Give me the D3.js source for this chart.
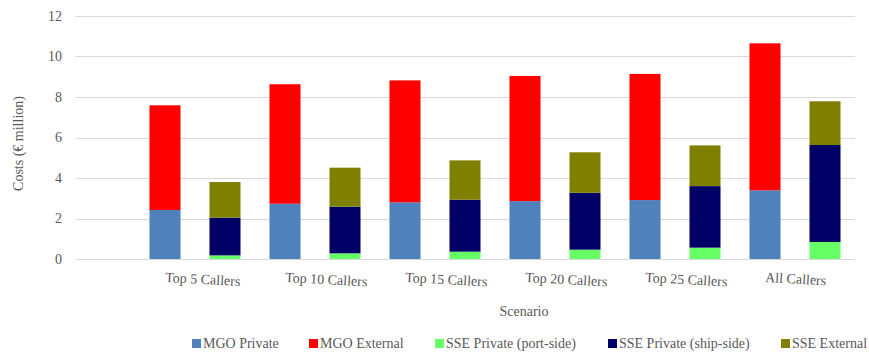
<!DOCTYPE html>
<html>
<head>
<meta charset="utf-8">
<script src="https://cdn.jsdelivr.net/npm/d3@7"></script>
<style>
  html, body { margin: 0; padding: 0; background: #ffffff; }
  svg { display: block; }
</style>
</head>
<body>
<svg id="chart" width="869" height="354"></svg>
<script>
// Cost scenarios (€ million)
const scenarios = ["Top 5 Callers", "Top 10 Callers", "Top 15 Callers", "Top 20 Callers", "Top 25 Callers", "All Callers"];
const technologies = ["MGO", "SSE"];

const mgoPrivate  = [2.42, 2.73, 2.80, 2.86, 2.91, 3.39];
const mgoExternal = [5.17, 5.90, 6.02, 6.18, 6.23, 7.26];
const ssePrivatePort = [0.18, 0.28, 0.36, 0.46, 0.56, 0.84];
const ssePrivateShip = [1.86, 2.30, 2.57, 2.81, 3.04, 4.79];
const sseExternal    = [1.76, 1.93, 1.94, 2.00, 2.01, 2.16];

const yTicks = [0, 2, 4, 6, 8, 10, 12];

const seriesDefs = [
  { name: "MGO Private", tech: "MGO", values: mgoPrivate, color: "#4f81bd" },
  { name: "MGO External", tech: "MGO", values: mgoExternal, color: "#ff0000" },
  { name: "SSE Private (port-side)", tech: "SSE", values: ssePrivatePort, color: "#66ff66" },
  { name: "SSE Private (ship-side)", tech: "SSE", values: ssePrivateShip, color: "#000066" },
  { name: "SSE External", tech: "SSE", values: sseExternal, color: "#808000" }
];

const FONT = "Liberation Serif";
const TEXT_COLOR = "#595959";

const svg = d3.select("#chart");

const plotLeft = 75, plotRight = 855, plotTop = 16, plotBottom = 259;
const firstGroupLeft = 135; // one empty slot before the first scenario
const legendSlots = [192, 309, 435, 608, 781]; // legend entry left edges

const y = d3.scaleLinear().domain([0, 12]).range([plotBottom, plotTop]);
const x0 = d3.scaleBand().domain(scenarios).range([firstGroupLeft, plotRight]).padding(0);
const x1 = d3.scaleBand().domain(technologies).range([0, x0.bandwidth()])
  .paddingInner(0.483).paddingOuter(0.2415);

function styleText(sel) {
  return sel.style("font-family", FONT).style("font-size", "14px").style("fill", TEXT_COLOR);
}

// Horizontal gridlines
svg.append("g")
  .selectAll("line")
  .data(yTicks)
  .join("line")
  .attr("x1", plotLeft).attr("x2", plotRight)
  .attr("y1", d => Math.round(y(d)) + 0.5)
  .attr("y2", d => Math.round(y(d)) + 0.5)
  .attr("stroke", "#d9d9d9")
  .attr("stroke-width", 1);

// Y axis tick labels
const yAxis = d3.axisLeft(y).tickValues(yTicks).tickSize(0).tickPadding(13);
const yAxisG = svg.append("g").attr("transform", `translate(${plotLeft},0)`).call(yAxis);
yAxisG.select(".domain").remove();
styleText(yAxisG.selectAll("text"));

// Stacked bars: one stack per technology within each scenario
technologies.forEach(tech => {
  const defs = seriesDefs.filter(s => s.tech === tech);
  const rows = scenarios.map((sc, i) => {
    const row = { scenario: sc };
    defs.forEach(s => { row[s.name] = s.values[i]; });
    return row;
  });
  const stacked = d3.stack().keys(defs.map(s => s.name))(rows);
  stacked.forEach((layer, li) => {
    svg.append("g")
      .attr("fill", defs[li].color)
      .selectAll("rect")
      .data(layer)
      .join("rect")
      .attr("x", d => x0(d.data.scenario) + x1(tech))
      .attr("width", x1.bandwidth())
      .attr("y", d => y(d[1]))
      .attr("height", d => y(d[0]) - y(d[1]));
  });
});

// Category labels, slightly tilted, starting at the MGO bar centre
styleText(svg.append("g")
  .selectAll("text")
  .data(scenarios)
  .join("text")
  .attr("transform", d => {
    const lx = x0(d) + x1("MGO") + x1.bandwidth() / 2;
    return `translate(${lx},${282}) rotate(3)`;
  })
  .attr("text-anchor", "start")
  .text(d => d));

// Axis titles
styleText(svg.append("text")
  .attr("x", 524).attr("y", 316)
  .attr("text-anchor", "middle")
  .text("Scenario"));

styleText(svg.append("text")
  .attr("transform", `translate(23,${(plotTop + plotBottom) / 2 + 6}) rotate(-90)`)
  .attr("text-anchor", "middle")
  .text("Costs (€ million)"));

// Legend
const legendItems = svg.append("g")
  .selectAll("g")
  .data(seriesDefs)
  .join("g")
  .attr("transform", (d, i) => `translate(${legendSlots[i]},0)`);

legendItems.append("rect")
  .attr("x", 0).attr("y", 339)
  .attr("width", 9).attr("height", 9)
  .attr("fill", d => d.color);

styleText(legendItems.append("text")
  .attr("x", 11).attr("y", 348)
  .text(d => d.name));
</script>
</body>
</html>
